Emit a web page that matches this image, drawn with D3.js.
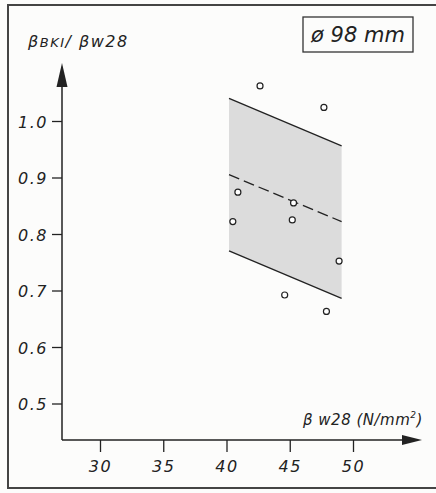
<!DOCTYPE html>
<meta charset="utf-8">
<head>
    <title>Bohrkern / Würfel</title>
    <script type="text/javascript" src="https://cdn.jsdelivr.net/npm/d3@7"></script>
    <style>
        body { margin: 0; background: #fcfcfb; }
        svg text { font-family: "DejaVu Sans", sans-serif; font-style: italic; font-weight: 200; fill: #222; }
    </style>
</head>
<body>
    <div id="chart"></div>
    <script>
        // values
        const pointsX = [42.65, 47.7, 40.9, 40.5, 45.3, 45.2, 48.9, 44.6, 47.9];
        const pointsY = [1.062, 1.024, 0.874, 0.822, 0.855, 0.825, 0.752, 0.692, 0.663];
        const bandX = [40.2, 49.1];
        const bandUpper = [1.04, 0.956];
        const bandMean = [0.905, 0.822];
        const bandLower = [0.77, 0.686];
        const xTicks = [30, 35, 40, 45, 50];
        const yTicks = [0.5, 0.6, 0.7, 0.8, 0.9, 1.0];

        const width = 436, height = 493;
        const x0 = 62, y0 = 440; // axis origin on the page

        const svg = d3.select("#chart").append("svg")
            .attr("width", width)
            .attr("height", height);

        // outer frame (right side runs off the picture)
        svg.append("path")
            .attr("d", "M" + (width + 5) + ",5 H8 V488 H" + (width + 5))
            .attr("fill", "none")
            .attr("stroke", "#444")
            .attr("stroke-width", 2);

        const x = d3.scaleLinear().domain([30, 50]).range([100, 353]);
        const y = d3.scaleLinear().domain([0.5, 1.0]).range([403.5, 121]);

        // shaded band
        const band = bandX.map((d, i) => [x(d), y(bandUpper[i])])
            .concat(bandX.map((d, i) => [x(d), y(bandLower[i])]).reverse());
        svg.append("path")
            .attr("d", "M" + band.join("L") + "Z")
            .attr("fill", "#dcdcdc");

        const line = d3.line().x(d => x(d[0])).y(d => y(d[1]));
        [bandUpper, bandLower].forEach(b => {
            svg.append("path")
                .attr("d", line(bandX.map((d, i) => [d, b[i]])))
                .attr("fill", "none")
                .attr("stroke", "#222")
                .attr("stroke-width", 1.3);
        });
        svg.append("path")
            .attr("d", line(bandX.map((d, i) => [d, bandMean[i]])))
            .attr("fill", "none")
            .attr("stroke", "#222")
            .attr("stroke-width", 1.3)
            .attr("stroke-dasharray", "11,5");

        // axes
        const yAxis = d3.axisLeft(y).tickValues(yTicks).tickFormat(d3.format(".1f"))
            .tickSize(10).tickPadding(4);
        const gy = svg.append("g").attr("transform", "translate(" + x0 + ",0)").call(yAxis);
        const xAxis = d3.axisBottom(x).tickValues(xTicks).tickFormat(d3.format("d"))
            .tickSize(12).tickPadding(9);
        const gx = svg.append("g").attr("transform", "translate(0," + y0 + ")").call(xAxis);
        [gx, gy].forEach(g => {
            g.select(".domain").remove();
            g.selectAll(".tick line").attr("stroke", "#222").attr("stroke-width", 1.3);
            g.selectAll(".tick text").attr("font-size", 16).attr("fill", "#222")
                .attr("letter-spacing", 1.5)
                .attr("font-family", null);
        });
        gy.selectAll(".tick text").attr("dy", "0.4em");

        svg.append("line")
            .attr("x1", x0).attr("y1", y0).attr("x2", x0).attr("y2", 80)
            .attr("stroke", "#222").attr("stroke-width", 1.5);
        svg.append("line")
            .attr("x1", x0).attr("y1", y0).attr("x2", 405).attr("y2", y0)
            .attr("stroke", "#222").attr("stroke-width", 1.5);
        svg.append("path")
            .attr("d", "M" + x0 + ",63 L" + (x0 - 5.5) + ",87 L" + (x0 + 5.5) + ",87 Z")
            .attr("fill", "#222");
        svg.append("path")
            .attr("d", "M422," + y0 + " L402," + (y0 - 5) + " L402," + (y0 + 5) + " Z")
            .attr("fill", "#222");

        // points
        svg.append("g").selectAll("circle")
            .data(pointsX.map((d, i) => [d, pointsY[i]]))
            .enter().append("circle")
            .attr("cx", d => x(d[0]))
            .attr("cy", d => y(d[1]))
            .attr("r", 3)
            .attr("fill", "#fff")
            .attr("stroke", "#222")
            .attr("stroke-width", 1.2);

        // axis titles
        const yt = svg.append("text").attr("x", 28).attr("y", 47)
            .attr("font-size", 16).attr("letter-spacing", 1.5);
        yt.append("tspan").text("β");
        yt.append("tspan").attr("font-size", 13).text("BKI");
        yt.append("tspan").text("/ βw28");

        const xt = svg.append("text").attr("x", 303).attr("y", 425)
            .attr("font-size", 15).attr("letter-spacing", 0.5);
        xt.append("tspan").text("β w28 (N/mm");
        xt.append("tspan").attr("font-size", 9).attr("dy", -7).text("2");
        xt.append("tspan").attr("dy", 7).text(")");

        // diameter box
        svg.append("rect")
            .attr("x", 303).attr("y", 17).attr("width", 110).attr("height", 35)
            .attr("fill", "none").attr("stroke", "#333").attr("stroke-width", 1.3);
        svg.append("text")
            .attr("x", 358).attr("y", 42)
            .attr("text-anchor", "middle")
            .attr("font-size", 21)
            .text("ø 98 mm");
    </script>
</body>
</html>
